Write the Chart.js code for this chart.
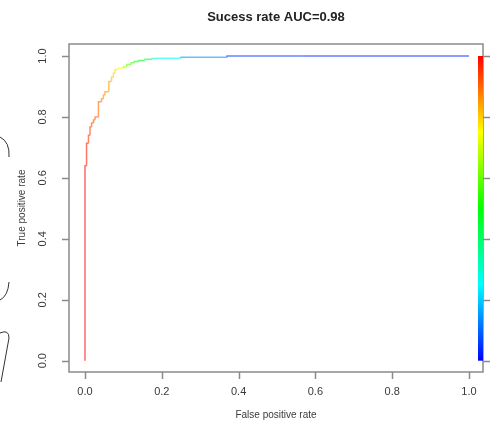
<!DOCTYPE html>
<html>
<head>
<meta charset="utf-8">
<script src="https://cdn.jsdelivr.net/npm/chart.js@4/dist/chart.umd.min.js"></script>
<style>
  body { margin: 0; background: #fff; }
  canvas { display: block; }
</style>
</head>
<body>
<canvas id="myChart" width="501" height="433"></canvas>
<script>
// ROC curve points
const fpr = [0, 0, 0.004, 0.009, 0.013, 0.017, 0.022, 0.026, 0.035, 0.043, 0.048, 0.052, 0.062, 0.069, 0.074, 0.078, 0.087, 0.1, 0.109, 0.12, 0.128, 0.14, 0.156, 0.175, 0.19, 0.25, 0.37, 0.57, 1.0];
const tpr = [0, 0.583, 0.64, 0.714, 0.74, 0.767, 0.78, 0.79, 0.80, 0.85, 0.86, 0.872, 0.883, 0.916, 0.93, 0.943, 0.956, 0.96, 0.965, 0.972, 0.978, 0.982, 0.985, 0.989, 0.992, 0.993, 0.996, 1.0, 1.0];
// estimated cutoff at each point (drives the rainbow colour)
const cutoffs = [1.0, 0.99, 0.97, 0.95, 0.94, 0.93, 0.92, 0.91, 0.90, 0.88, 0.87, 0.86, 0.85, 0.82, 0.80, 0.78, 0.75, 0.66, 0.6, 0.56, 0.52, 0.48, 0.42, 0.32, 0.25, 0.15, 0.05, 0.03, 0.0];
const xTicks = [0, 0.2, 0.4, 0.6, 0.8, 1.0];
const yTicks = [0, 0.2, 0.4, 0.6, 0.8, 1.0];
const titleText = 'Sucess rate AUC=0.98';
const xLabel = 'False positive rate';
const yLabel = 'True positive rate';

const rainbow = (c, light) => `hsl(${Math.round((1 - c) * 240)}, 100%, ${light}%)`;

const points = fpr.map((x, i) => ({x: x, y: tpr[i]}));

const decorations = {
  id: 'decorations',
  beforeDraw(chart) {
    const c = chart.ctx;
    c.save();
    c.fillStyle = '#fff';
    c.fillRect(0, 0, chart.width, chart.height);
    c.restore();
  },
  afterDraw(chart) {
    const c = chart.ctx;
    const xs = chart.scales.x, ys = chart.scales.y;
    const a = chart.chartArea;
    c.save();
    // box
    c.strokeStyle = '#8a8a8a';
    c.lineWidth = 1.5;
    c.strokeRect(a.left, a.top, a.right - a.left, a.bottom - a.top);
    // ticks
    c.beginPath();
    xTicks.forEach(t => {
      const px = Math.round(xs.getPixelForValue(t)) + 0.5;
      c.moveTo(px, a.bottom); c.lineTo(px, a.bottom + 7);
    });
    yTicks.forEach(t => {
      const py = Math.round(ys.getPixelForValue(t)) + 0.5;
      c.moveTo(a.left, py); c.lineTo(a.left - 7, py);
      c.moveTo(a.right, py); c.lineTo(a.right + 7, py);
    });
    c.stroke();

    // colour bar for the cutoffs
    const top = ys.getPixelForValue(1.0), bot = ys.getPixelForValue(0);
    const g = c.createLinearGradient(0, top, 0, bot);
    for (let k = 0; k <= 12; k++) {
      g.addColorStop(k / 12, `hsl(${k * 20}, 100%, 50%)`);
    }
    c.fillStyle = g;
    c.fillRect(a.right - 5, top, 5, bot - top);

    // tick labels
    c.fillStyle = '#3a3a3a';
    c.font = '11px "Liberation Sans", Arial, sans-serif';
    c.textAlign = 'center';
    c.textBaseline = 'middle';
    xTicks.forEach(t => {
      c.fillText(t.toFixed(1), xs.getPixelForValue(t), a.bottom + 20);
    });
    yTicks.forEach(t => {
      c.save();
      c.translate(a.left - 26, ys.getPixelForValue(t));
      c.rotate(-Math.PI / 2);
      c.fillText(t.toFixed(1), 0, 0);
      c.restore();
    });

    // axis titles
    c.font = '10px "Liberation Sans", Arial, sans-serif';
    c.fillText(xLabel, (a.left + a.right) / 2, a.bottom + 43);
    c.save();
    c.translate(a.left - 47, (a.top + a.bottom) / 2);
    c.rotate(-Math.PI / 2);
    c.fillText(yLabel, 0, 0);
    c.restore();

    // main title
    c.fillStyle = '#222';
    c.font = 'bold 13px "Liberation Sans", Arial, sans-serif';
    c.fillText(titleText, (a.left + a.right) / 2, 17);

    // pen marks on the left edge of the screenshot
    c.strokeStyle = '#333';
    c.lineWidth = 1;
    c.beginPath();
    c.moveTo(0, 137);
    c.quadraticCurveTo(10, 142, 9, 157);
    c.moveTo(9, 282);
    c.quadraticCurveTo(8, 296, 0, 300);
    c.moveTo(0, 333);
    c.quadraticCurveTo(9, 329, 9, 338);
    c.lineTo(1, 382);
    c.stroke();
    c.restore();
  }
};

const ctx = document.getElementById('myChart').getContext('2d');
const chart = new Chart(ctx, {
  type: 'line',
  data: {
    datasets: [{
      data: points,
      borderWidth: 1.5,
      pointRadius: 0,
      stepped: 'after',
      fill: false,
      borderColor: rainbow(1, 68),
      segment: {
        borderColor: s => rainbow(cutoffs[s.p0DataIndex], 70)
      }
    }]
  },
  options: {
    responsive: false,
    animation: false,
    layout: { padding: { left: 69, right: 18, top: 44, bottom: 61 } },
    plugins: { legend: { display: false }, tooltip: { enabled: false } },
    scales: {
      x: { type: 'linear', min: -0.0417, max: 1.0365, display: false },
      y: { type: 'linear', min: -0.0371, max: 1.0394, display: false }
    }
  },
  plugins: [decorations]
});
</script>
</body>
</html>
